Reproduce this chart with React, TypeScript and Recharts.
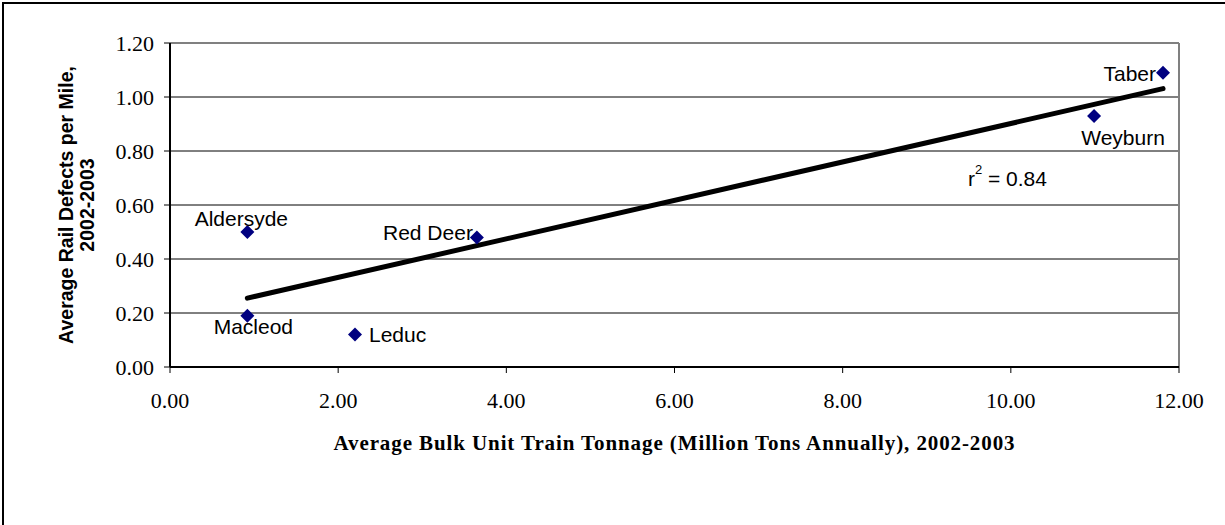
import { ScatterChart, Scatter, XAxis, YAxis, CartesianGrid, ReferenceLine, ReferenceDot } from 'recharts';

// Rail yards
const stations = ['Aldersyde', 'Macleod', 'Leduc', 'Red Deer', 'Weyburn', 'Taber'];
// Average bulk unit train tonnage (million tons annually)
const tonnage = [0.92, 0.92, 2.2, 3.65, 10.99, 11.81];
// Average rail defects per mile
const defects = [0.5, 0.19, 0.12, 0.48, 0.93, 1.09];

// Linear trend line end points
const trendX = [0.92, 11.81];
const trendY = [0.255, 1.031];
const rSquared = '0.84';

const xTicks = [0, 2, 4, 6, 8, 10, 12];
const yTicks = [0, 0.2, 0.4, 0.6, 0.8, 1.0, 1.2];

const points = stations.map((name, i) => ({ name, x: tonnage[i], y: defects[i] }));
const trend = trendX.map((x, i) => ({ x, y: trendY[i] }));

// where each station name sits relative to its marker
const labelPlacement: Record<string, { dx: number; dy: number; anchor: string }> = {
  Aldersyde: { dx: -6, dy: -14, anchor: 'middle' },
  Macleod: { dx: 6, dy: 11, anchor: 'middle' },
  Leduc: { dx: 14, dy: 0, anchor: 'start' },
  'Red Deer': { dx: -4, dy: -5, anchor: 'end' },
  Weyburn: { dx: 29, dy: 22, anchor: 'middle' },
  Taber: { dx: -7, dy: 1, anchor: 'end' },
};

const Diamond = (props: any) => {
  const { cx, cy } = props;
  const name = props.payload?.name ?? props.name;
  const p = labelPlacement[name] || { dx: 0, dy: -14, anchor: 'middle' };
  const r = 7;
  return (
    <g>
      <polygon
        points={`${cx},${cy - r} ${cx + r},${cy} ${cx},${cy + r} ${cx - r},${cy}`}
        fill="#000080"
      />
      <text
        x={cx + p.dx}
        y={cy + p.dy}
        textAnchor={p.anchor as any}
        dominantBaseline="central"
        fontFamily="'Liberation Sans', Arial, sans-serif"
        fontSize={21}
        fill="#000"
      >
        {name}
      </text>
    </g>
  );
};

const RSquaredLabel = (props: any) => {
  const { viewBox } = props;
  const x = viewBox?.cx ?? viewBox?.x ?? 0;
  const y = viewBox?.cy ?? viewBox?.y ?? 0;
  return (
    <text
      x={x}
      y={y}
      dominantBaseline="central"
      fontFamily="'Liberation Sans', Arial, sans-serif"
      fontSize={21}
      fill="#000"
    >
      r<tspan fontSize={13} dy={-9}>2</tspan>
      <tspan dy={9}> = {rSquared}</tspan>
    </text>
  );
};

const tickStyle = { fontFamily: "'Liberation Serif', 'Times New Roman', serif", fontSize: 22, fill: '#000' };

export default function App() {
  return (
    <div style={{ position: 'absolute', left: 0, top: 0, width: 1225, height: 525, overflow: 'hidden', background: '#fff' }}>
      <div
        style={{
          position: 'absolute',
          left: 2,
          top: 2,
          width: 1400,
          height: 700,
          borderTop: '2px solid #000',
          borderLeft: '2px solid #000',
        }}
      />
      <ScatterChart
        width={1225}
        height={525}
        margin={{ top: 43, right: 46, left: 70, bottom: 98 }}
        style={{ position: 'absolute', left: 0, top: 0 }}
      >
        <CartesianGrid vertical={false} stroke="#000" strokeWidth={1} />
        <XAxis
          type="number"
          dataKey="x"
          domain={[0, 12]}
          ticks={xTicks}
          tickFormatter={(v: number) => v.toFixed(2)}
          tick={tickStyle}
          tickSize={6}
          tickMargin={19}
          height={60}
          axisLine={{ stroke: '#000', strokeWidth: 2 }}
          tickLine={{ stroke: '#000' }}
          allowDataOverflow
        />
        <YAxis
          type="number"
          dataKey="y"
          domain={[0, 1.2]}
          ticks={yTicks}
          tickFormatter={(v: number) => v.toFixed(2)}
          tick={tickStyle}
          tickSize={6}
          tickMargin={10}
          width={100}
          axisLine={{ stroke: '#000', strokeWidth: 2 }}
          tickLine={{ stroke: '#000' }}
          allowDataOverflow
        />
        <ReferenceLine y={1.2} stroke="#808080" strokeWidth={2} />
        <ReferenceLine x={12} stroke="#808080" strokeWidth={2} />
        <Scatter
          data={trend}
          line={{ stroke: '#000', strokeWidth: 5, strokeLinecap: 'round' }}
          shape={() => <g />}
          isAnimationActive={false}
        />
        <Scatter data={points} shape={Diamond} isAnimationActive={false} />
        <ReferenceDot x={9.49} y={0.7} r={0} fill="none" stroke="none" label={<RSquaredLabel />} />
      </ScatterChart>
      <div
        style={{
          position: 'absolute',
          left: 170,
          width: 1009,
          top: 430,
          textAlign: 'center',
          fontFamily: "'Liberation Serif', 'Times New Roman', serif",
          fontWeight: 'bold',
          fontSize: 21,
          letterSpacing: 0.9,
          lineHeight: '26px',
          color: '#000',
        }}
      >
        Average Bulk Unit Train Tonnage (Million Tons Annually), 2002-2003
      </div>
      <div
        style={{
          position: 'absolute',
          left: 78 - 162,
          top: 205 - 22,
          width: 324,
          height: 44,
          transform: 'rotate(-90deg)',
          textAlign: 'center',
          fontFamily: "'Liberation Sans', Arial, sans-serif",
          fontWeight: 'bold',
          fontSize: 19.5,
          lineHeight: '21px',
          color: '#000',
        }}
      >
        Average Rail Defects per Mile,
        <br />
        2002-2003
      </div>
    </div>
  );
}
